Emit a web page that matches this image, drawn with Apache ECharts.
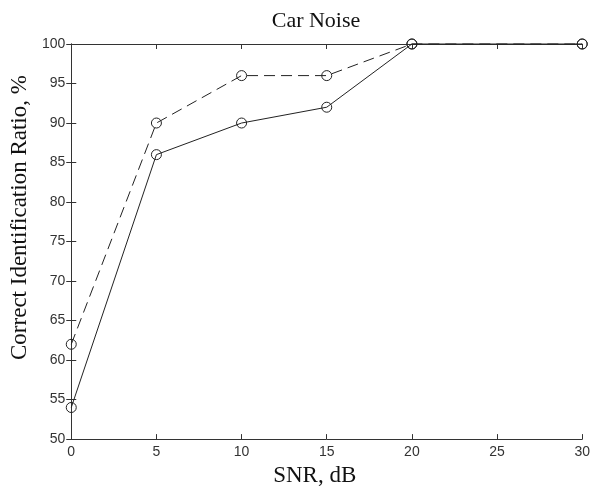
<!DOCTYPE html>
<html>
<head>
<meta charset="utf-8">
<script src="https://cdn.jsdelivr.net/npm/echarts@6/dist/echarts.min.js"></script>
<style>
  html, body { margin: 0; padding: 0; background: #fff; }
  #main { width: 593px; height: 492px; }
</style>
</head>
<body>
<div id="main"></div>
<script>
var snr = [0, 5, 10, 15, 20, 30];
var solidRatio = [54, 86, 90, 92, 100, 100];
var dashedRatio = [62, 90, 96, 96, 100, 100];

var chart = echarts.init(document.getElementById('main'), null, { renderer: 'canvas' });

function pairs(xs, ys) {
  return xs.map(function (x, i) { return [x, ys[i]]; });
}

var axisColor = '#333';
var serif = '"Liberation Serif", "DejaVu Serif", serif';
var sans = '"Liberation Sans", Arial, sans-serif';

var option = {
  backgroundColor: '#fff',
  animation: false,
  title: {
    text: 'Car Noise',
    left: 311,
    top: 5,
    textAlign: 'center',
    textStyle: { fontFamily: serif, fontSize: 22, fontWeight: 'normal', color: '#111' }
  },
  grid: { left: 68, right: 9, top: 44, bottom: 41 },
  xAxis: [
    {
      type: 'value',
      min: 0, max: 30, interval: 5,
      name: 'SNR, dB',
      nameLocation: 'middle',
      nameGap: 20,
      nameTextStyle: { fontFamily: serif, fontSize: 23, color: '#111', padding: [0, 24, 0, 0] },
      axisLine: { lineStyle: { color: axisColor, width: 1 } },
      axisTick: { inside: true, length: 5, lineStyle: { color: axisColor } },
      axisLabel: { fontFamily: sans, fontSize: 14, color: '#333', margin: 6 },
      splitLine: { show: false }
    },
    {
      type: 'value',
      position: 'top',
      min: 0, max: 30, interval: 5,
      axisLine: { lineStyle: { color: axisColor, width: 1 } },
      axisTick: { inside: true, length: 5, lineStyle: { color: axisColor } },
      axisLabel: { show: false },
      splitLine: { show: false }
    }
  ],
  yAxis: [
    {
      type: 'value',
      min: 50, max: 100, interval: 5,
      name: 'Correct Identification Ratio, %',
      nameLocation: 'middle',
      nameGap: 32,
      nameTextStyle: { fontFamily: serif, fontSize: 23, color: '#111', padding: [0, 0, 0, 48] },
      axisLine: { show: true, lineStyle: { color: axisColor, width: 1 } },
      axisTick: { show: true, inside: true, length: 5, lineStyle: { color: axisColor } },
      axisLabel: { fontFamily: sans, fontSize: 14, color: '#333', margin: 6 },
      splitLine: { show: false }
    },
    {
      type: 'value',
      position: 'right',
      min: 50, max: 100, interval: 5,
      axisLine: { show: true, lineStyle: { color: axisColor, width: 1 } },
      axisTick: { show: true, inside: true, length: 5, lineStyle: { color: axisColor } },
      axisLabel: { show: false },
      splitLine: { show: false }
    }
  ],
  series: [
    {
      name: 'solid',
      type: 'line',
      data: pairs(snr, solidRatio),
      symbol: 'circle',
      symbolSize: 10,
      clip: false,
      lineStyle: { color: '#222', width: 1, type: 'solid' },
      itemStyle: { color: 'rgba(255,255,255,0)', borderColor: '#222', borderWidth: 1 }
    },
    {
      name: 'dashed',
      type: 'line',
      data: pairs(snr, dashedRatio),
      symbol: 'circle',
      symbolSize: 10,
      clip: false,
      lineStyle: { color: '#222', width: 1, type: [11, 6] },
      itemStyle: { color: 'rgba(255,255,255,0)', borderColor: '#222', borderWidth: 1 }
    }
  ]
};

chart.setOption(option);
</script>
</body>
</html>
